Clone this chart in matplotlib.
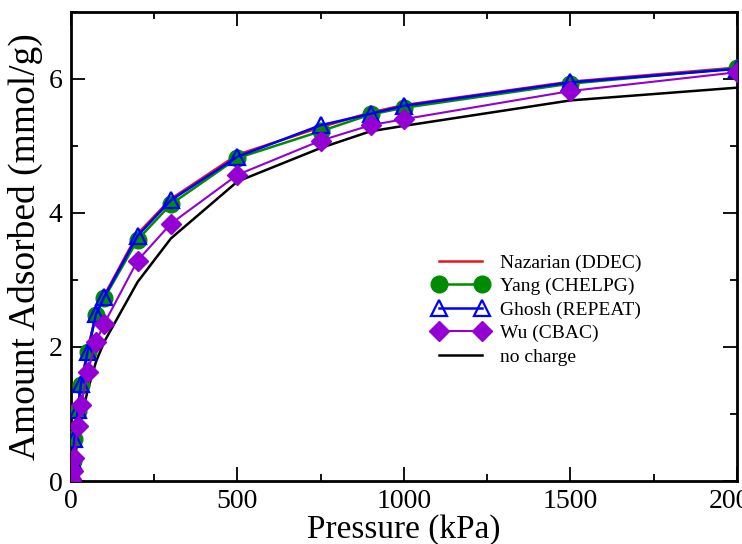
import matplotlib
matplotlib.use("Agg")
from matplotlib import pyplot as plt
from matplotlib.ticker import MultipleLocator

# pressure points (kPa)
pressure = [0, 1, 5, 10, 20, 30, 50, 75, 100, 200, 300, 500, 750, 900, 1000, 1500, 2000]

nazarian = [0, 0.06, 0.32, 0.64, 1.08, 1.46, 1.95, 2.50, 2.77, 3.69, 4.21, 4.87, 5.28, 5.50, 5.61, 5.96, 6.17]
yang = [0, 0.05, 0.30, 0.62, 1.05, 1.43, 1.92, 2.48, 2.73, 3.60, 4.13, 4.82, 5.22, 5.47, 5.57, 5.93, 6.16]
ghosh = [0, 0.05, 0.30, 0.63, 1.06, 1.45, 1.93, 2.49, 2.75, 3.66, 4.19, 4.84, 5.31, 5.48, 5.60, 5.95, 6.15]
wu = [0, 0.03, 0.15, 0.35, 0.82, 1.13, 1.62, 2.08, 2.35, 3.29, 3.84, 4.57, 5.08, 5.31, 5.40, 5.82, 6.10]
nocharge = [0, 0.02, 0.12, 0.28, 0.62, 0.92, 1.35, 1.78, 2.08, 2.97, 3.62, 4.47, 4.97, 5.22, 5.30, 5.68, 5.87]

plt.rcParams['font.family'] = ['Liberation Serif', 'DejaVu Serif']

fig = plt.figure(figsize=(7.42, 5.44), dpi=100)
ax = fig.add_axes([0.0957, 0.1158, 0.8973, 0.8622])

ax.plot(pressure, nazarian, color="#e8141c", lw=1.8, label="Nazarian (DDEC)", zorder=3)
ax.plot(pressure, yang, color="#008b00", lw=1.8, marker="o", ms=12,
        markerfacecolor="#008b00", markeredgecolor="#008b00", label="Yang (CHELPG)", zorder=4)
ax.plot(pressure, ghosh, color="#0000ff", lw=1.8, marker="^", ms=12,
        markerfacecolor="none", markeredgecolor="#0000ff", markeredgewidth=1.6,
        label="Ghosh (REPEAT)", zorder=5)
ax.plot(pressure, wu, color="#9400d3", lw=1.5, marker="D", ms=10,
        markerfacecolor="#9400d3", markeredgecolor="#9400d3", label="Wu (CBAC)", zorder=6)
ax.plot(pressure, nocharge, color="black", lw=1.8, label="no charge", zorder=2)

ax.set_xlim(0, 2000)
ax.set_ylim(0, 7)
ax.xaxis.set_major_locator(MultipleLocator(500))
ax.xaxis.set_minor_locator(MultipleLocator(250))
ax.yaxis.set_major_locator(MultipleLocator(2))
ax.yaxis.set_minor_locator(MultipleLocator(1))
ax.tick_params(which="both", direction="in", top=True, right=True, labelsize=20, width=1.3, pad=6)
ax.tick_params(which="major", length=10)
ax.tick_params(which="minor", length=5)
for s in ax.spines.values():
    s.set_linewidth(2)

ax.set_xlabel("Pressure (kPa)", fontsize=24, labelpad=0)
ax.set_ylabel("Amount Adsorbed (mmol/g)", fontsize=27, labelpad=4)

leg = ax.legend(loc="upper left", bbox_to_anchor=(0.53, 0.505), frameon=False,
                numpoints=2, fontsize=14, handlelength=2.8, handletextpad=0.6,
                labelspacing=0.3, borderpad=0)
for t in ax.get_xticklabels():
    t.set_clip_on(False)

fig.savefig("out.png", dpi=100)
